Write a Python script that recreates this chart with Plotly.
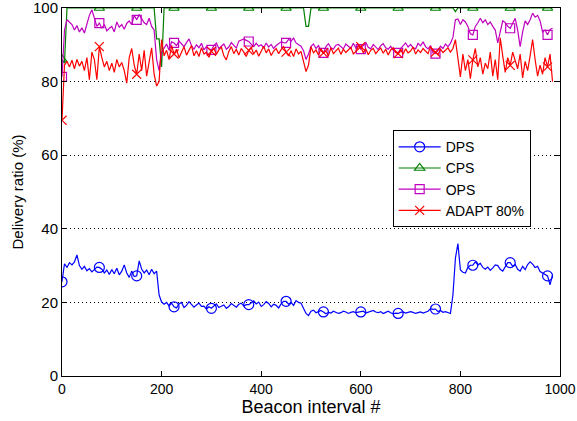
import plotly.graph_objects as go

BEACON = list(range(0, 990, 5))

DPS = [25.6, 30.5, 29.5, 30.8, 30.2, 31.0, 32.9, 30.0, 29.0, 29.8, 28.6, 29.2, 28.3, 29.0, 29.6,
       29.5, 29.0, 28.0, 28.8, 27.6, 28.9, 27.8, 29.3, 27.5, 28.5, 30.2, 28.0, 26.8, 28.5, 27.0,
       27.2, 31.3, 29.0, 28.0, 28.8, 27.5, 29.0, 27.8, 28.5, 22.0, 20.1, 19.5, 20.0, 19.0, 19.8,
       18.8, 18.5, 19.6, 20.0, 18.6, 19.2, 20.2, 19.5, 18.7, 19.3, 19.8, 18.9, 19.0, 18.2, 18.8,
       18.4, 19.1, 19.6, 18.6, 18.9, 19.3, 18.4, 18.9, 19.7, 19.2, 18.7, 19.5, 19.8, 19.0, 19.4,
       19.4, 20.0, 20.4, 19.6, 20.1, 18.9, 19.4, 20.2, 19.7, 18.8, 19.5, 19.2, 18.5, 19.6, 20.3,
       20.3, 19.5, 20.0, 19.2, 20.5, 20.0, 19.8, 18.6, 17.0, 16.4, 17.6, 17.9, 17.2, 17.5, 17.8,
       17.4, 16.9, 17.3, 17.1, 17.6, 17.3, 17.0, 17.2, 17.6, 17.4, 17.0, 17.3, 17.5, 17.2, 17.4,
       17.4, 17.6, 17.1, 17.3, 17.5, 17.8, 17.4, 17.2, 17.5, 17.0, 17.3, 17.6, 17.2, 16.9, 17.1,
       17.0, 17.3, 17.4, 17.1, 17.2, 17.5, 17.3, 17.0, 17.2, 17.4, 17.1, 17.3, 17.6, 18.3, 18.1,
       18.2, 17.5, 17.8, 17.3, 17.5, 17.2, 17.0, 22.0, 32.0, 36.0, 28.8, 28.2, 28.0, 29.5, 30.1,
       30.1, 31.0, 30.2, 30.6, 29.5, 29.0, 29.6, 28.7, 29.4, 30.2, 30.0, 29.0, 28.5, 29.8, 30.8,
       30.8, 29.8, 30.3, 29.0, 28.5, 29.8, 28.9, 30.3, 31.0, 30.4, 29.5, 29.8, 28.4, 28.0, 27.4,
       27.2, 24.8, 27.5]

CPS = [86.0, 85.0, 100, 100, 100, 100, 100, 100, 100, 100, 100, 100, 100, 100, 100,
       100, 100, 100, 100, 100, 100, 100, 100, 100, 100, 100, 100, 100, 100, 100,
       100, 100, 100, 100, 100, 100, 100, 100, 91.6, 91.6, 84.0, 100, 100, 100, 100,
       100, 100, 100, 100, 100, 100, 100, 100, 100, 100, 100, 100, 100, 100, 100,
       100, 100, 100, 100, 100, 100, 100, 100, 100, 100, 100, 100, 100, 100, 100,
       100, 100, 100, 100, 100, 100, 100, 100, 100, 100, 100, 100, 100, 100, 100,
       100, 100, 100, 100, 100, 100, 100, 100, 95.0, 95.0, 100, 100, 100, 100, 100,
       100, 100, 100, 100, 100, 100, 100, 100, 100, 100, 100, 100, 100, 100, 100,
       100, 100, 100, 100, 100, 100, 100, 100, 100, 100, 100, 100, 100, 100, 100,
       100, 100, 100, 100, 100, 100, 100, 100, 100, 100, 100, 100, 100, 100, 100,
       100, 100, 100, 100, 100, 100, 100, 100, 99.0, 100, 100, 100, 100, 100, 100,
       100, 100, 100, 100, 100, 100, 100, 100, 100, 100, 100, 100, 100, 100, 100,
       100, 100, 100, 100, 100, 100, 100, 100, 100, 100, 100, 100, 100, 100, 100,
       100, 100, 100]

OPS = [81.3, 94.0, 96.8, 96.0, 95.5, 94.0, 95.2, 93.5, 94.6, 93.2, 95.5, 98.0, 99.5, 97.0, 95.0,
       95.9, 94.5, 95.5, 93.8, 94.5, 95.0, 93.5, 96.2, 94.8, 95.5, 94.2, 95.8, 96.5, 95.5, 98.0,
       96.8, 98.2, 97.0, 96.0, 95.5, 97.2, 95.0, 94.0, 86.0, 83.0, 88.0, 89.0, 90.2, 88.5, 90.8,
       90.5, 89.8, 91.0, 90.3, 89.5, 90.6, 91.6, 89.8, 88.8, 90.0, 89.2, 90.4, 88.6, 89.5, 88.9,
       88.6, 89.8, 90.5, 89.0, 89.6, 90.2, 88.8, 89.4, 90.6, 89.8, 89.1, 91.0, 91.4, 91.6, 91.2,
       90.9, 90.2, 89.5, 90.4, 89.6, 90.0, 89.2, 90.5, 89.4, 90.1, 89.0, 89.8, 90.3, 90.8, 90.6,
       90.5, 91.5, 91.0, 91.8, 90.5, 90.0, 89.6, 88.4, 86.0, 87.5, 89.6, 90.2, 89.0, 89.8, 88.5,
       87.8, 89.5, 90.3, 89.2, 88.8, 89.9, 90.1, 89.4, 88.9, 90.2, 89.6, 89.0, 90.4, 89.1, 89.8,
       88.8, 89.9, 90.6, 89.3, 88.9, 90.1, 89.5, 88.7, 89.8, 90.3, 89.2, 88.8, 89.6, 88.5, 88.2,
       87.8, 89.0, 89.8, 90.5, 89.4, 90.1, 89.2, 88.9, 90.4, 89.7, 90.8, 89.5, 88.9, 89.8, 87.8,
       87.6, 88.5, 89.6, 89.0, 90.2, 89.5, 90.4, 92.0, 96.8, 97.0, 95.5, 96.8, 96.2, 95.0, 93.0,
       92.7, 95.0, 96.0, 97.2, 96.0, 96.8, 95.5, 96.2, 95.0, 94.0, 90.5, 93.5, 96.5, 96.0, 95.0,
       94.5, 96.0, 97.2, 94.0, 89.5, 93.5, 96.5, 95.5, 96.8, 98.6, 97.5, 98.0, 96.5, 93.5, 94.0,
       92.7, 94.2, 94.5]

ADAPT = [69.5, 84.5, 85.5, 84.0, 85.8, 83.5, 86.0, 84.2, 85.5, 83.0, 86.5, 80.5, 88.0, 86.0, 80.5,
         89.5, 86.5, 84.0, 85.5, 83.0, 85.0, 82.5, 86.0, 84.0, 85.2, 83.0, 79.6, 86.5, 89.0, 84.5,
         82.0, 87.5, 83.0, 88.5, 81.5, 86.0, 89.2, 82.0, 78.8, 80.0, 91.4, 87.0, 88.5, 86.0, 89.8,
         87.5, 88.8, 86.5, 88.0, 89.5, 87.2, 88.6, 89.8, 87.0, 88.4, 86.8, 89.2, 87.5, 88.0, 86.6,
         88.2, 89.0, 87.4, 88.6, 89.4, 87.0, 85.9, 88.2, 89.5, 87.6, 88.8, 87.2, 89.0, 88.0, 86.8,
         88.5, 89.3, 87.5, 88.6, 86.9, 88.4, 89.6, 87.8, 88.9, 87.1, 88.3, 89.0, 87.6, 88.7, 89.5,
         88.0, 87.0, 88.4, 86.8, 88.9, 87.5, 88.2, 85.5, 82.7, 84.5, 89.5, 87.8, 88.6, 87.2, 88.9,
         87.8, 88.3, 87.0, 89.2, 87.6, 88.5, 89.1, 87.4, 88.8, 87.9, 88.6, 89.3, 87.5, 88.2, 89.6,
         89.5, 87.8, 88.9, 87.3, 88.5, 89.0, 87.6, 88.4, 89.1, 87.7, 88.8, 87.2, 88.6, 89.2, 87.9,
         87.6, 88.7, 87.4, 88.9, 87.8, 88.3, 89.4, 87.5, 88.6, 87.9, 89.0, 88.2, 87.6, 89.5, 88.4,
         88.0, 87.3, 88.8, 87.9, 88.5, 89.2, 88.0, 89.0, 91.4, 86.0, 81.3, 87.5, 83.0, 86.0, 80.8,
         85.9, 89.0, 84.0, 86.5, 82.0, 85.0, 83.5, 88.0, 81.5, 86.0, 80.5, 91.9, 87.0, 82.5, 86.5,
         84.4, 88.0, 86.0, 83.5, 87.5, 81.0, 85.5, 83.0, 87.0, 91.4, 86.0, 81.5, 84.5, 82.0, 86.5,
         84.0, 87.5, 80.0]

NAMES = ["DPS", "CPS", "OPS", "ADAPT 80%"]
SERIES = [DPS, CPS, OPS, ADAPT]
COLORS = ["#0000ff", "#008000", "#bf00bf", "#ff0000"]
SYMBOLS = ["circle-open", "triangle-up-open", "square-open", "x-thin-open"]
SIZES = [10, 9, 9, 9]
MARK_EVERY = 15  # every 75 beacon intervals

fig = go.Figure()
for name, ys, col, sym, sz in zip(NAMES, SERIES, COLORS, SYMBOLS, SIZES):
    fig.add_trace(go.Scatter(x=BEACON, y=ys, mode="lines", line=dict(color=col, width=1.2),
                             showlegend=False, hoverinfo="skip"))
    fig.add_trace(go.Scatter(x=BEACON[::MARK_EVERY], y=ys[::MARK_EVERY], mode="markers",
                             marker=dict(symbol=sym, size=sz, color=col, line=dict(color=col, width=1.2)),
                             showlegend=False))
    fig.add_trace(go.Scatter(x=[None], y=[None], mode="lines+markers", name=name,
                             line=dict(color=col, width=1.2),
                             marker=dict(symbol=sym, size=sz, color=col, line=dict(color=col, width=1.2))))

axis_common = dict(showline=True, linecolor="black", linewidth=1, mirror="ticks",
                   ticks="inside", ticklen=5, tickcolor="black", zeroline=False,
                   ticklabeloverflow="allow", automargin=False)

fig.update_layout(
    width=577, height=421,
    margin=dict(l=62, r=17, t=8, b=45),
    paper_bgcolor="white", plot_bgcolor="white",
    font=dict(family="Liberation Sans, Arial, sans-serif", color="black"),
    xaxis=dict(range=[0, 1000], tickvals=[0, 200, 400, 600, 800, 1000], showgrid=False,
               tickfont=dict(size=14, color="black"),
               title=dict(text="Beacon interval #", font=dict(size=18), standoff=0), **axis_common),
    yaxis=dict(range=[0, 100], tickvals=[0, 20, 40, 60, 80, 100], showgrid=True,
               gridcolor="black", griddash="1px,3px", gridwidth=1,
               tickfont=dict(size=15, color="black"),
               title=dict(text="Delivery ratio (%)", font=dict(size=15), standoff=5), **axis_common),
    legend=dict(x=0.664, y=0.668, xanchor="left", yanchor="top", bgcolor="white",
                bordercolor="black", borderwidth=1, font=dict(size=14), itemwidth=42,
                tracegroupgap=0),
    showlegend=True,
)

fig.write_html("out.html")
